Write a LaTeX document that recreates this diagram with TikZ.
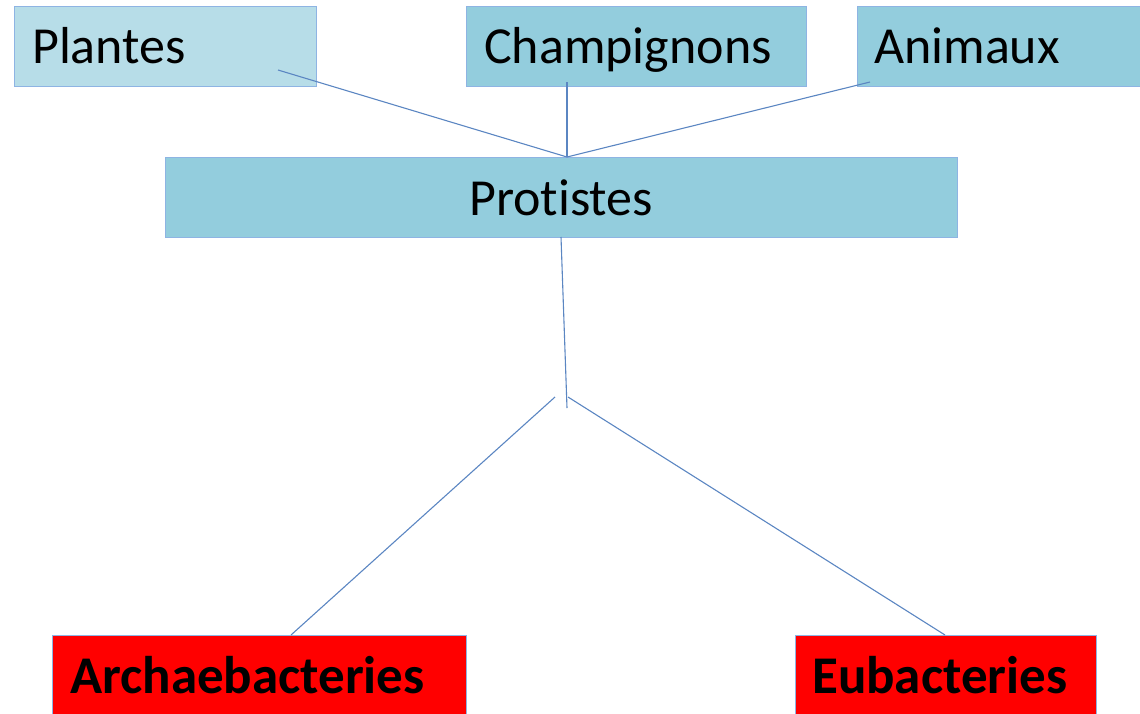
\documentclass[tikz,border=0pt]{standalone}
\usepackage{fontspec}
\setmainfont[Ligatures={NoCommon}]{Carlito}
\definecolor{lightbl}{HTML}{B7DDE8}
\definecolor{midbl}{HTML}{93CDDD}
\definecolor{edgebl}{HTML}{8EB4E3}
\definecolor{linebl}{HTML}{5B86C2}
\begin{document}
\begin{tikzpicture}[x=1pt,y=-1pt,
  boxst/.style={draw=edgebl,line width=1pt,anchor=north west,inner sep=0pt},
  txt/.style={anchor=base west,inner sep=0pt,font=\fontsize{52}{60}\selectfont},
  btxt/.style={txt,font=\fontsize{53}{60}\selectfont\bfseries},
  conn/.style={draw=linebl,line width=1.1pt}]
\useasboundingbox (0,0) rectangle (1140,713);
\clip (0,0) rectangle (1140,713);
% boxes
\node[boxst,fill=lightbl,minimum width=302pt,minimum height=80pt] (plantes) at (14,6) {};
\node[boxst,fill=midbl,minimum width=340pt,minimum height=80pt] (champ) at (466,6) {};
\node[boxst,fill=midbl,minimum width=300pt,minimum height=80pt] (anim) at (857,6) {};
\node[boxst,fill=midbl,minimum width=792pt,minimum height=80pt] (prot) at (165,157) {};
\node[boxst,fill=red,minimum width=414pt,minimum height=100pt] (arch) at (52,635) {};
\node[boxst,fill=red,minimum width=301pt,minimum height=100pt] (eub) at (795,635) {};
% texts
\node[txt] (tpl) at (32,63) {Plantes};
\node[txt] (tch) at (484,63) {Champignons};
\node[txt] (tan) at (874,63) {Animaux};
\node[txt,anchor=base] (tpr) at (561,215) {Protistes};
\node[btxt] (tar) at (70,693) {Archaebacteries};
\node[btxt] (teu) at (812,693) {Eubacteries};
% connector points
\coordinate (plo) at (278,70);
\coordinate (cho) at (567,82);
\coordinate (ano) at (870,82);
\coordinate (ptop) at (567,157);
\coordinate (pbot) at (561,237);
\coordinate (jn) at (567,408);
\coordinate (jl) at (555,397);
\coordinate (jr) at (568,397);
\coordinate (art) at (291,635);
\coordinate (eut) at (945,635);
% connectors
\draw[conn] (plo) -- (ptop);
\draw[conn] (cho) -- (ptop);
\draw[conn] (ano) -- (ptop);
\draw[conn] (pbot) -- (jn);
\draw[conn] (jl) -- (art);
\draw[conn] (jr) -- (eut);
\end{tikzpicture}
\end{document}
